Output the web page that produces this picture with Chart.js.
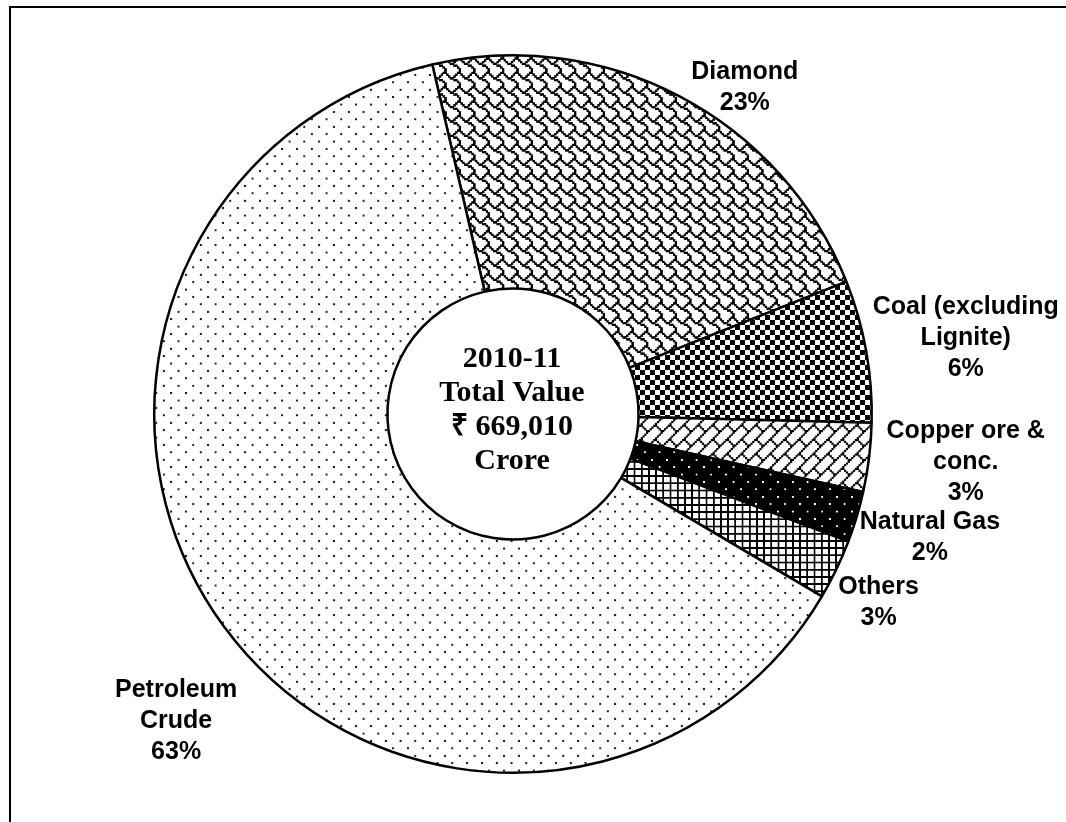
<!DOCTYPE html>
<html><head><meta charset="utf-8">
<script src="https://cdn.jsdelivr.net/npm/chart.js@4.4.0/dist/chart.umd.min.js"></script>
<style>html,body{margin:0;padding:0;background:#fff;overflow:hidden}#wrap{position:relative;width:1066px;height:822px}</style>
</head><body><div id="wrap"><canvas id="c" width="1066" height="822"></canvas></div>
<script>
// ---- data ----
const categories = ["Diamond", "Coal (excluding Lignite)", "Copper ore & conc.", "Natural Gas", "Others", "Petroleum Crude"];
const shares = [22.6, 6.4, 3.1, 2.3, 2.7, 62.9];
const labelLines = [["Diamond"], ["Coal (excluding", "Lignite)"], ["Copper ore &", "conc."], ["Natural Gas"], ["Others"], ["Petroleum", "Crude"]];
const centerLines = ["2010-11", "Total Value", "\u20B9 669,010", "Crore"];

// ---- layout (label block centres as fractions of outer radius, relative to pie centre) ----
const labelAnchors = [[0.646, -0.911], [1.262, -0.212], [1.262, 0.134], [1.162, 0.345], [1.019, 0.526], [-0.939, 0.855]];

const canvas = document.getElementById('c');
const mainCtx = canvas.getContext('2d');

function bitPattern(rows, fg, bg, scale, dil) {
  const k = 4;
  const d = dil || 1;
  const c = document.createElement('canvas');
  c.width = 8 * k; c.height = 8 * k;
  const x = c.getContext('2d');
  x.fillStyle = bg; x.fillRect(0, 0, 8 * k, 8 * k);
  x.fillStyle = fg;
  const off = (d - 1) * k / 2;
  rows.forEach((r, y) => {
    for (let i = 0; i < 8; i++) if (r & (0x80 >> i)) {
      for (const ox of [-8 * k, 0, 8 * k]) for (const oy of [-8 * k, 0, 8 * k])
        x.fillRect(i * k - off + ox, y * k - off + oy, k * d, k * d);
    }
  });
  const p = mainCtx.createPattern(c, 'repeat');
  p.setTransform(new DOMMatrix().scale(scale / k));
  return p;
}

const patterns = [
  bitPattern([0x03, 0x84, 0x48, 0x30, 0x0C, 0x02, 0x01, 0x01], '#000', '#fff', 1.8, 1.35), // shingle - Diamond
  bitPattern([0xF0, 0xF0, 0xF0, 0xF0, 0x0F, 0x0F, 0x0F, 0x0F], '#000', '#fff', 1.25),      // checker - Coal
  bitPattern([0x01, 0x02, 0x04, 0x08, 0x18, 0x24, 0x42, 0x81], '#000', '#fff', 1.8, 1.2),  // diagonal brick - Copper
  bitPattern([0x80, 0x00, 0x00, 0x00, 0x08, 0x00, 0x00, 0x00], '#fff', '#000', 1.85),      // white dots on black - Natural gas
  bitPattern([0xFF, 0x88, 0x88, 0x88, 0xFF, 0x88, 0x88, 0x88], '#000', '#fff', 1.8),       // small grid - Others
  bitPattern([0x80, 0x00, 0x00, 0x00, 0x08, 0x00, 0x00, 0x00], '#222', '#fff', 1.85, 1.1)  // sparse dots - Petroleum
];

const deco = {
  id: 'deco',
  afterDraw(chart) {
    const ctx = chart.ctx;
    const arc = chart.getDatasetMeta(0).data[0];
    const cx = arc.x, cy = arc.y, R = arc.outerRadius;
    ctx.save();
    ctx.fillStyle = '#000';
    ctx.fillRect(9, 6, chart.width, 2);
    ctx.fillRect(9, 6, 2, chart.height);
    ctx.textAlign = 'center';
    ctx.textBaseline = 'middle';
    ctx.font = 'bold 30px "Liberation Serif"';
    centerLines.forEach((t, i) => ctx.fillText(t, cx - 1, cy - 3.5 + (i - (centerLines.length - 1) / 2) * 34));
    ctx.font = 'bold 25px "Liberation Sans"';
    categories.forEach((c, i) => {
      const lines = labelLines[i].concat([Math.round(shares[i]) + '%']);
      const [fx, fy] = labelAnchors[i];
      const x = cx + fx * R, y = cy + fy * R;
      lines.forEach((t, j) => ctx.fillText(t, x, y + (j - (lines.length - 1) / 2) * 31));
    });
    ctx.restore();
  }
};

new Chart(canvas, {
  type: 'doughnut',
  data: {
    labels: categories,
    datasets: [{
      data: shares,
      backgroundColor: patterns,
      borderColor: '#000',
      borderWidth: 2.5,
      hoverOffset: 0
    }]
  },
  options: {
    responsive: false,
    animation: false,
    events: [],
    rotation: -13,
    cutout: '35%',
    layout: { padding: { left: 153, right: 193, top: 54, bottom: 48 } },
    plugins: { legend: { display: false }, tooltip: { enabled: false } }
  },
  plugins: [deco]
});
</script>
</body></html>
